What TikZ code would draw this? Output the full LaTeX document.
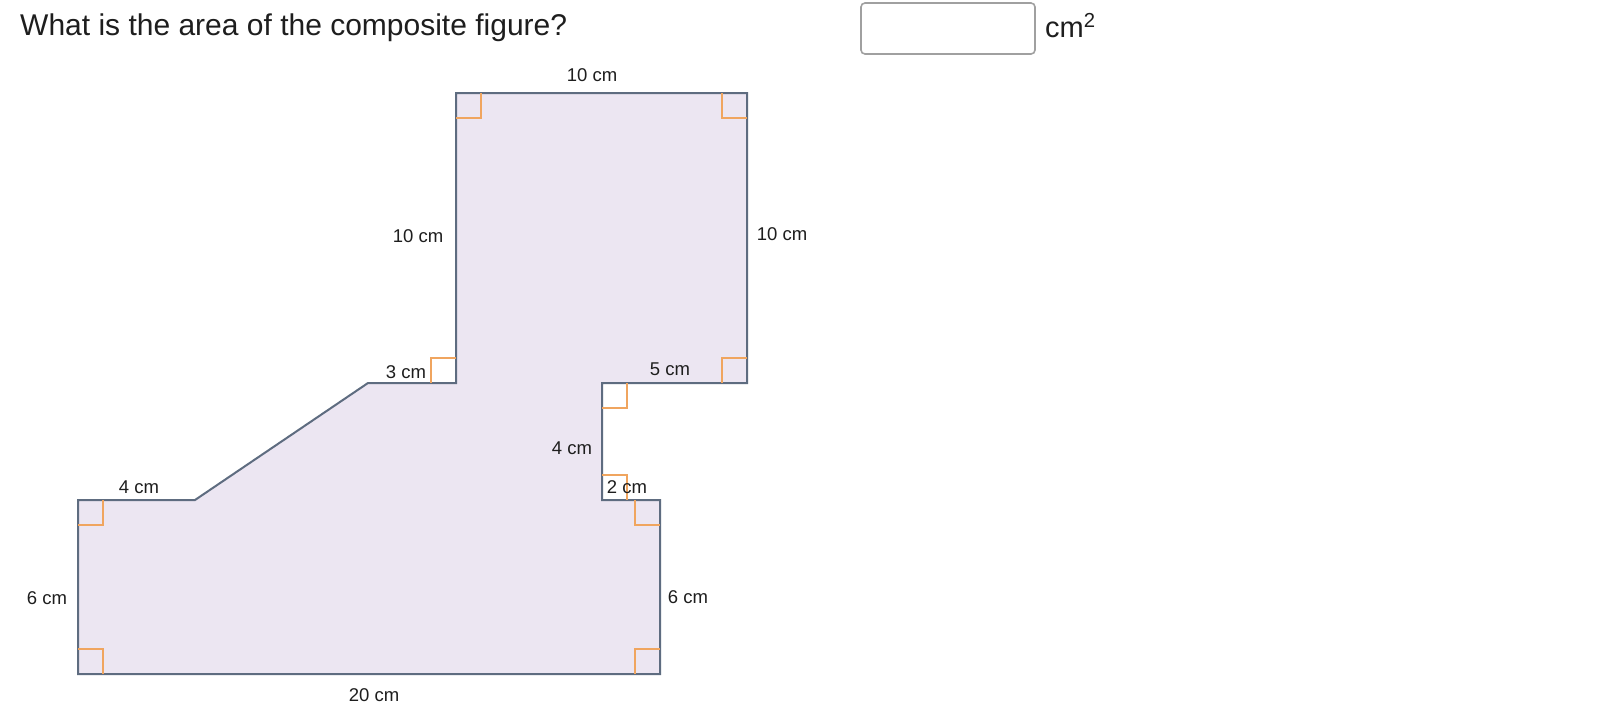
\documentclass[tikz,border=0pt]{standalone}
\usepackage{fontspec}
\setmainfont{Liberation Sans}
\definecolor{shapefill}{RGB}{236,230,242}
\definecolor{shapeline}{RGB}{94,108,128}
\definecolor{markcol}{RGB}{240,165,95}
\definecolor{boxline}{RGB}{160,160,160}
\definecolor{txt}{RGB}{30,30,30}
\tikzset{
  lbl/.style={font=\fontsize{18.5}{22}\selectfont, text=txt, inner sep=0pt},
  shapeedge/.style={draw=shapeline, line width=2pt, fill=shapefill, line join=miter},
  rmark/.style={draw=markcol, line width=1.6pt},
}
\begin{document}
\begin{tikzpicture}[x=1pt,y=-1pt]
\useasboundingbox (0,0) rectangle (1610,710);
\fill[white] (0,0) rectangle (1610,710);
% vertices
\coordinate (A) at (78,674);
\coordinate (B) at (660,674);
\coordinate (C) at (660,500);
\coordinate (D) at (602,500);
\coordinate (E) at (602,383);
\coordinate (F) at (747,383);
\coordinate (G) at (747,93);
\coordinate (H) at (456,93);
\coordinate (I) at (456,383);
\coordinate (J) at (368,383);
\coordinate (K) at (195,500);
\coordinate (L) at (78,500);
\draw[shapeedge] (A) -- (B) -- (C) -- (D) -- (E) -- (F) -- (G) -- (H) -- (I) -- (J) -- (K) -- (L) -- cycle;
% right-angle marks
\draw[rmark] ([yshift=-25pt]H) -- ++(25,0) -- ++(0,-25);
\draw[rmark] ([yshift=-25pt]G) -- ++(-25,0) -- ++(0,-25);
\draw[rmark] ([yshift=25pt]F) -- ++(-25,0) -- ++(0,25);
\draw[rmark] ([xshift=-25pt]I) -- ++(0,-25) -- ++(25,0);
\draw[rmark] ([yshift=-25pt]E) -- ++(25,0) -- ++(0,-25);
\draw[rmark] ([yshift=25pt]D) -- ++(25,0) -- ++(0,25);
\draw[rmark] ([yshift=-25pt]C) -- ++(-25,0) -- ++(0,-25);
\draw[rmark] ([yshift=25pt]B) -- ++(-25,0) -- ++(0,25);
\draw[rmark] ([yshift=25pt]A) -- ++(25,0) -- ++(0,25);
\draw[rmark] ([yshift=-25pt]L) -- ++(25,0) -- ++(0,-25);
% labels
\node[lbl] (ltop) at (592,75) {10 cm};
\node[lbl] (lleft) at (418,236) {10 cm};
\node[lbl] (lright) at (782,234) {10 cm};
\node[lbl] (l3) at (406,372) {3 cm};
\node[lbl] (l5) at (670,369) {5 cm};
\node[lbl] (l4m) at (572,448) {4 cm};
\node[lbl] (l2) at (627,487) {2 cm};
\node[lbl] (l4l) at (139,487) {4 cm};
\node[lbl] (l6l) at (47,598) {6 cm};
\node[lbl] (l6r) at (688,597) {6 cm};
\node[lbl] (l20) at (374,695) {20 cm};
% question
\node[anchor=base west, inner sep=0pt, text=txt, font=\fontsize{30}{35}\selectfont] (q) at (20,35) {What is the area of the composite figure?};
% answer box
\draw[draw=boxline, line width=1.6pt, rounded corners=4pt, fill=white] (861,3) rectangle (1035,54);
\node[anchor=base west, inner sep=0pt, text=txt, font=\fontsize{29}{34}\selectfont] (unit) at (1045,37) {cm\textsuperscript{2}};
\end{tikzpicture}
\end{document}
